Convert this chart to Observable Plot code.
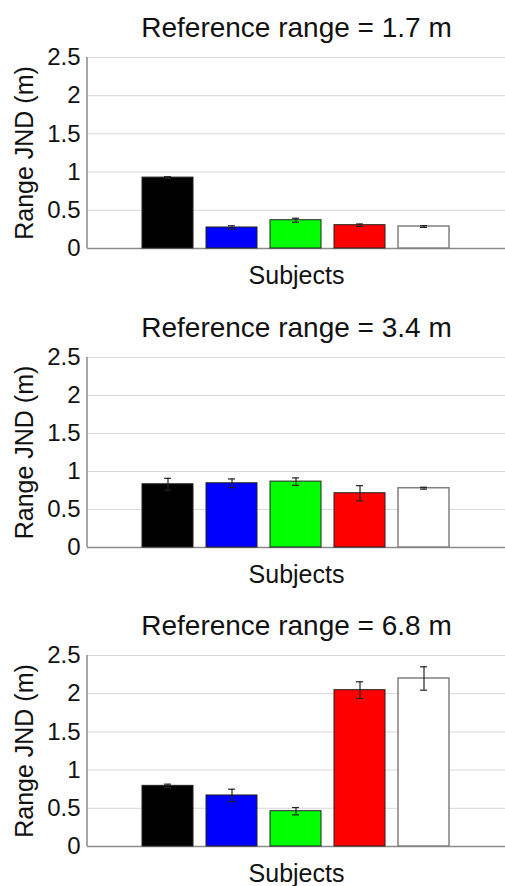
<!DOCTYPE html>
<html>
<head>
<meta charset="utf-8">
<script src="https://cdn.jsdelivr.net/npm/d3@7"></script>
<script src="https://cdn.jsdelivr.net/npm/@observablehq/plot@0.6"></script>
<style>
  html, body { margin: 0; padding: 0; background: #fff; }
  #chart { width: 505px; height: 886px; overflow: hidden; }
  #chart svg { display: block; overflow: visible; }
</style>
</head>
<body>
<div id="chart"></div>
<script>
// ---- data ----
const subjects = ["S1", "S2", "S3", "S4", "S5"];
const referenceRanges = ["1.7", "3.4", "6.8"];
const jnd17 = [0.928, 0.275, 0.370, 0.305, 0.288];
const err17 = [0.012, 0.022, 0.026, 0.016, 0.012];
const jnd34 = [0.832, 0.845, 0.867, 0.714, 0.780];
const err34 = [0.078, 0.057, 0.048, 0.100, 0.012];
const jnd68 = [0.794, 0.668, 0.462, 2.046, 2.199];
const err68 = [0.022, 0.082, 0.048, 0.110, 0.153];
const yTicks = [0, 0.5, 1, 1.5, 2, 2.5];
const yTickLabels = ["0", "0.5", "1", "1.5", "2", "2.5"];
const yLabel = "Range JND (m)";
const xLabel = "Subjects";

// ---- styles ----
const palette = ["#000000", "#0000ff", "#00ff00", "#ff0000", "#ffffff"];
const font = "'Liberation Sans', Arial, Helvetica, sans-serif";

const panels = [
  {range: referenceRanges[0], values: jnd17, errors: err17, height: 299, top: 57, bottom: 51},
  {range: referenceRanges[1], values: jnd34, errors: err34, height: 299, top: 58, bottom: 51},
  {range: referenceRanges[2], values: jnd68, errors: err68, height: 288, top: 57, bottom: 40}
];

function yAxisLine(index, scales, values, dims) {
  const ns = "http://www.w3.org/2000/svg";
  const g = document.createElementNS(ns, "g");
  const line = document.createElementNS(ns, "line");
  line.setAttribute("x1", dims.marginLeft);
  line.setAttribute("x2", dims.marginLeft);
  line.setAttribute("y1", dims.marginTop);
  line.setAttribute("y2", dims.height - dims.marginBottom);
  line.setAttribute("stroke", "#8a8a8a");
  line.setAttribute("stroke-width", 1.5);
  g.appendChild(line);
  return g;
}

const chart = document.getElementById("chart");
for (const p of panels) {
  const data = subjects.map((s, i) => ({subject: s, value: p.values[i], err: p.errors[i]}));
  const plot = Plot.plot({
    width: 505,
    height: p.height,
    marginLeft: 87,
    marginRight: 0,
    marginTop: p.top,
    marginBottom: p.bottom,
    style: {fontFamily: font, background: "#fff", overflow: "visible"},
    x: {domain: subjects, paddingInner: 0.2, paddingOuter: 0.84, axis: null},
    y: {domain: [0, 2.5], axis: null},
    color: {type: "ordinal", domain: subjects, range: palette},
    marks: [
      Plot.gridY(yTicks, {stroke: "#d8d8d8", strokeOpacity: 1, strokeWidth: 1}),
      Plot.axisY(yTicks, {
        tickSize: 0, tickPadding: 7, label: null,
        tickFormat: (d) => yTickLabels[yTicks.indexOf(d)],
        fontSize: 24, fill: "#111"
      }),
      Plot.ruleY([0], {stroke: "#8a8a8a", strokeWidth: 1.5}),
      yAxisLine,
      Plot.barY(data.filter(d => d.subject !== "S5"), {x: "subject", y: "value", fill: "subject", stroke: "#222", strokeWidth: 1}),
      Plot.barY(data.filter(d => d.subject === "S5"), {x: "subject", y: "value", fill: "subject", stroke: "#808080", strokeWidth: 1.5}),
      Plot.ruleX(data, {x: "subject", y1: d => d.value - d.err, y2: d => d.value + d.err, stroke: "#222", strokeWidth: 1.2}),
      Plot.tickY(data, {x: "subject", y: d => d.value + d.err, stroke: "#222", strokeWidth: 1.2, insetLeft: 22, insetRight: 22}),
      Plot.tickY(data, {x: "subject", y: d => d.value - d.err, stroke: "#222", strokeWidth: 1.2, insetLeft: 22, insetRight: 22}),
      Plot.text([`Reference range = ${p.range} m`], {
        frameAnchor: "top", lineAnchor: "bottom", dy: -21,
        fontSize: 28, fill: "#111"
      }),
      Plot.text([xLabel], {
        frameAnchor: "bottom", lineAnchor: "bottom", dy: 35,
        fontSize: 25, fill: "#111"
      }),
      Plot.text([yLabel], {
        frameAnchor: "left", textAnchor: "middle", dx: -63, rotate: -90, lineAnchor: "middle",
        fontSize: 25, fill: "#111"
      })
    ]
  });
  chart.appendChild(plot);
}
</script>
</body>
</html>
